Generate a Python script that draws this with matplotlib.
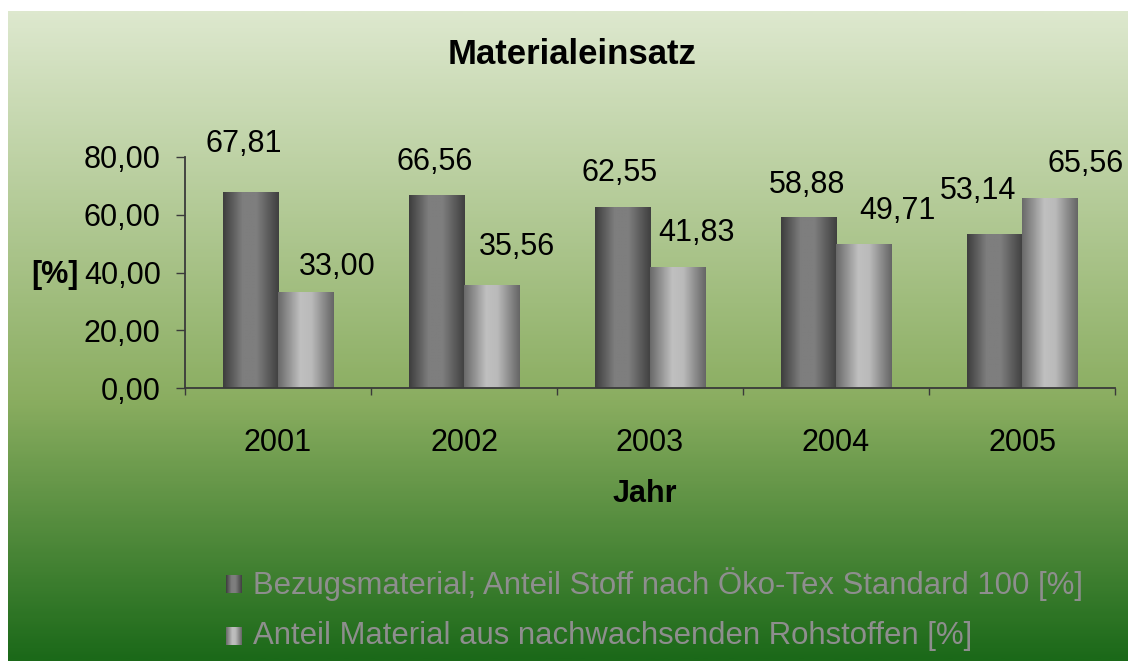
import numpy as np
import matplotlib
matplotlib.use('Agg')
import matplotlib.pyplot as plt
from matplotlib.colors import LinearSegmentedColormap
from matplotlib.ticker import FuncFormatter

plt.rcParams['font.family'] = ['Liberation Sans', 'DejaVu Sans']

years        = ['2001', '2002', '2003', '2004', '2005']
bezug        = [67.81, 66.56, 62.55, 58.88, 53.14]
nachwachsend = [33.00, 35.56, 41.83, 49.71, 65.56]
series_names = ['Bezugsmaterial; Anteil Stoff nach Öko-Tex Standard 100 [%]',
                'Anteil Material aus nachwachsenden Rohstoffen [%]']

# label nudges (pixels), Excel placed them a bit unevenly
dark_nudge  = [(-7, 51), (-1.5, 37), (-2.5, 37), (-1.5, 36), (-16, 47)]
light_nudge = [(31.5, 29), (25, 41), (19, 37), (34, 36), (36.5, 38)]

W, H = 1128, 661
fig = plt.figure(figsize=(W / 100, H / 100), dpi=100)
fig.patch.set_facecolor('white')

# background gradient panel
bg = fig.add_axes([8 / W, 0, 1 - 8 / W, 650 / H])
bg_cmap = LinearSegmentedColormap.from_list(
    'bg', [(0, '#dde8ce'), (0.6, '#8aad60'), (1, '#1b6919')])
bg.imshow(np.linspace(0, 1, 300).reshape(-1, 1), cmap=bg_cmap,
          aspect='auto', extent=[0, 1, 0, 1], interpolation='bilinear')
bg.axis('off')

ax = fig.add_axes([185 / W, 1 - 388 / H, (1115 - 185) / W, (388 - 157) / H])
ax.set_facecolor('none')

x  = np.arange(len(years))
bw = 0.296

cm_dark  = LinearSegmentedColormap.from_list(
    'd', [(0, '#3e3e3e'), (0.35, '#7e7e7e'), (0.6, '#7e7e7e'), (1, '#404040')])
cm_light = LinearSegmentedColormap.from_list(
    'l', [(0, '#6a6a6a'), (0.4, '#c0c0c0'), (0.6, '#bababa'), (1, '#666666')])
grad = np.linspace(0, 1, 64).reshape(1, -1)


def gradient_bars(values, offset, cmap):
    bars = ax.bar(x + offset, values, bw, color='none', edgecolor='none')
    for b in bars:
        ax.imshow(grad, cmap=cmap, aspect='auto', interpolation='bilinear',
                  extent=[b.get_x(), b.get_x() + b.get_width(), 0, b.get_height()],
                  zorder=2)
    return bars


dark_bars  = gradient_bars(bezug, -bw / 2, cm_dark)
light_bars = gradient_bars(nachwachsend, bw / 2, cm_light)

ax.set_xlim(-0.5, len(years) - 0.5)
ax.set_ylim(0, 80)


def fmt(v):
    return f'{v:.2f}'.replace('.', ',')


for bars, vals, nudge in [(dark_bars, bezug, dark_nudge),
                          (light_bars, nachwachsend, light_nudge)]:
    for b, v, (dx, dy) in zip(bars, vals, nudge):
        ax.annotate(fmt(v), (b.get_x() + b.get_width() / 2, v),
                    xytext=(dx, dy - 11), textcoords='offset pixels',
                    ha='center', va='baseline', fontsize=22, annotation_clip=False)

for s in ['top', 'right']:
    ax.spines[s].set_visible(False)
for s in ['left', 'bottom']:
    ax.spines[s].set_color('#3a3a3a')
    ax.spines[s].set_linewidth(1.3)

ax.set_yticks([0, 20, 40, 60, 80])
ax.yaxis.set_major_formatter(FuncFormatter(lambda v, p: fmt(v)))
ax.tick_params(axis='y', length=6.5, width=1, color='#3a3a3a', pad=11, labelsize=22)

ax.set_xticks(x)
ax.set_xticklabels(years)
ax.set_xticks(np.arange(-0.5, len(years)), minor=True)
ax.tick_params(axis='x', which='major', length=0, pad=29, labelsize=22)
ax.tick_params(axis='x', which='minor', length=5, width=1, color='#3a3a3a')

fig.text(572 / W, 1 - 55 / H, 'Materialeinsatz', ha='center', va='center',
         fontsize=25, fontweight='bold')
fig.text(645 / W, 1 - 494 / H, 'Jahr', ha='center', va='center',
         fontsize=22, fontweight='bold')
fig.text(55 / W, 1 - 275 / H, '[%]', ha='center', va='center',
         fontsize=22, fontweight='bold')

# legend, drawn by hand so the keys keep the bar gradients
for i, (name, cmap) in enumerate(zip(series_names, [cm_dark, cm_light])):
    yc = 584 + 52 * i
    key = fig.add_axes([226 / W, 1 - (yc + 9) / H, 16 / W, 18 / H])
    key.imshow(grad, cmap=cmap, aspect='auto', interpolation='bilinear')
    key.axis('off')
    fig.text(253 / W, 1 - yc / H, name, ha='left', va='center',
             fontsize=22.4, color='#8e8e8e')

fig.savefig('out.png', dpi=100)
